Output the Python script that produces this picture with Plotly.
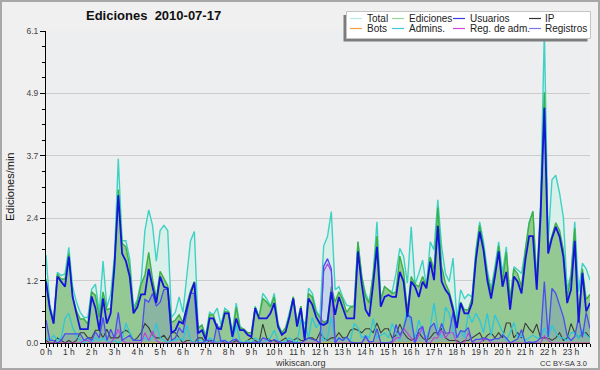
import plotly.graph_objects as go

# ---------------- data (10-minute slots, 0 h .. 23 h 50) ----------------
hour_labels = [f"{h} h" for h in range(24)]
slots = list(range(144))

total = [
    1.72, 0.75, 0.45, 1.38, 1.32, 1.35, 1.87, 1.1, 0.8, 0.6,
    0.5, 0.5, 1.05, 1.15, 0.6, 1.6, 0.7, 0.95, 1.7, 3.6,
    2.0, 2.0, 1.65, 0.7, 0.85, 1.2, 2.2, 2.6, 2.3, 1.6,
    2.2, 2.3, 2.2, 0.5, 0.6, 0.9, 0.6, 1.35, 2.0, 2.18,
    0.3, 0.35, 0.15, 0.6, 0.55, 0.68, 0.35, 0.68, 0.62, 0.22,
    0.78, 0.32, 0.27, 0.2, 0.2, 0.72, 0.5, 0.97, 0.87, 0.72,
    0.97, 0.38, 0.2, 0.3, 0.6, 0.9, 0.4, 0.72, 0.15, 1.07,
    0.97, 0.65, 0.5, 1.9, 2.08, 2.57, 1.04, 1.1, 0.9, 0.74,
    0.72, 0.72, 1.98, 1.3, 0.97, 0.8, 1.36, 2.37, 0.84, 1.1,
    1.04, 1.0, 1.36, 1.85, 1.69, 1.17, 2.27, 1.15, 1.36, 1.62,
    1.1, 1.98, 1.82, 2.8, 1.88, 1.36, 1.2, 1.66, 0.45, 1.04,
    0.87, 0.95, 0.9, 1.82, 2.37, 1.98, 1.43, 1.05, 1.49, 1.98,
    1.36, 1.88, 0.84, 1.49, 1.43, 1.36, 1.82, 2.36, 2.58, 1.2,
    2.7, 6.1, 1.97, 3.19, 3.28, 2.93, 2.45, 1.04, 1.35, 2.37,
    1.0, 1.56, 1.45, 1.23,
]
ediciones = [
    1.25, 0.68, 0.38, 1.35, 1.25, 1.25, 1.75, 0.9, 0.63, 0.47,
    0.47, 0.37, 1.0, 0.93, 0.5, 1.0, 0.65, 0.68, 1.6, 3.0,
    1.95, 1.88, 1.5, 0.63, 0.8, 1.15, 1.33, 1.77, 1.25, 0.88,
    1.4, 1.25, 1.12, 0.4, 0.45, 0.55, 0.4, 0.75, 1.02, 1.2,
    0.29, 0.35, 0.1, 0.55, 0.55, 0.3, 0.32, 0.62, 0.6, 0.15,
    0.7, 0.3, 0.27, 0.2, 0.2, 0.7, 0.5, 0.87, 0.8, 0.7,
    0.9, 0.35, 0.2, 0.3, 0.55, 0.9, 0.4, 0.72, 0.1, 0.97,
    0.9, 0.6, 0.5, 0.4, 0.45, 1.1, 0.8, 1.0, 0.85, 0.6,
    0.7, 0.72, 1.98, 1.3, 0.9, 0.78, 1.33, 2.09, 0.84, 1.1,
    1.04, 0.97, 1.0, 1.7, 1.4, 0.62, 1.3, 1.15, 1.1, 1.3,
    1.1, 1.68, 1.43, 2.65, 1.5, 1.17, 1.0, 0.72, 0.35, 0.8,
    0.65, 0.65, 0.88, 1.75, 2.3, 1.88, 1.35, 1.0, 1.4, 1.9,
    1.2, 1.78, 0.84, 1.45, 1.35, 1.1, 1.82, 2.34, 2.57, 1.17,
    2.6, 4.9, 1.85, 2.1, 2.35, 2.2, 1.82, 0.9, 1.3, 2.24,
    0.5, 1.45, 0.85, 0.95,
]
usuarios = [
    1.2, 0.68, 0.38, 1.3, 1.2, 1.1, 1.69, 0.9, 0.58, 0.27,
    0.27, 0.27, 0.91, 0.68, 0.25, 0.87, 0.38, 0.58, 1.5, 2.89,
    1.75, 1.6, 1.3, 0.58, 0.7, 0.95, 0.95, 1.45, 1.1, 0.78,
    1.3, 1.1, 1.07, 0.2, 0.25, 0.42, 0.38, 0.7, 0.97, 1.18,
    0.19, 0.25, 0.06, 0.48, 0.48, 0.29, 0.27, 0.58, 0.58, 0.12,
    0.48, 0.25, 0.25, 0.16, 0.12, 0.68, 0.48, 0.48, 0.48, 0.58,
    0.78, 0.32, 0.16, 0.22, 0.51, 0.87, 0.32, 0.68, 0.06, 0.87,
    0.75, 0.51, 0.38, 0.35, 0.4, 1.0, 0.55, 0.9, 0.7, 0.48,
    0.48, 0.48, 1.79, 1.15, 0.65, 0.52, 1.15, 1.88, 0.71, 0.9,
    0.94, 0.9, 0.9, 1.39, 1.2, 0.51, 1.2, 1.1, 0.9, 1.2,
    1.07, 1.59, 1.23, 2.29, 1.2, 1.04, 0.94, 0.65, 0.29, 0.78,
    0.58, 0.58, 0.78, 1.62, 2.18, 1.82, 1.23, 0.87, 1.3, 1.79,
    1.1, 1.39, 0.65, 1.3, 1.2, 0.97, 1.62, 2.09, 2.09, 1.04,
    2.47, 4.6, 1.75, 2.05, 2.27, 2.08, 1.69, 0.78, 1.04, 2.0,
    0.4, 1.37, 0.62, 0.78,
]
ip = [
    0.05, 0.0, 0.0, 0.1, 0.05, 0.0, 0.05, 0.0, 0.05, 0.2,
    0.2, 0.1, 0.1, 0.25, 0.25, 0.1, 0.27, 0.1, 0.1, 0.1,
    0.2, 0.25, 0.2, 0.05, 0.1, 0.2, 0.38, 0.3, 0.15, 0.1,
    0.1, 0.15, 0.05, 0.2, 0.2, 0.1, 0.0, 0.05, 0.05, 0.0,
    0.1, 0.1, 0.0, 0.05, 0.05, 0.0, 0.05, 0.0, 0.0, 0.0,
    0.05, 0.0, 0.0, 0.05, 0.1, 0.05, 0.0, 0.37, 0.1, 0.05,
    0.05, 0.0, 0.05, 0.1, 0.0, 0.05, 0.1, 0.05, 0.05, 0.1,
    0.1, 0.05, 0.2, 0.1, 0.05, 0.1, 0.1, 0.2, 0.1, 0.1,
    0.25, 0.28, 0.25, 0.2, 0.28, 0.28, 0.2, 0.39, 0.2, 0.28,
    0.28, 0.1, 0.15, 0.37, 0.2, 0.1, 0.05, 0.1, 0.2, 0.1,
    0.05, 0.1, 0.2, 0.2, 0.28, 0.1, 0.05, 0.05, 0.05, 0.0,
    0.05, 0.05, 0.1, 0.15, 0.2, 0.05, 0.15, 0.2, 0.1, 0.2,
    0.1, 0.39, 0.39, 0.1, 0.2, 0.1, 0.39, 0.28, 0.2, 0.37,
    0.1, 0.1, 0.1, 0.05, 0.1, 0.2, 0.05, 0.1, 0.38, 0.2,
    0.1, 0.2, 0.2, 0.1,
]
bots = [
    0.0, 0.0, 0.0, 0.0, 0.0, 0.0, 0.0, 0.0, 0.0, 0.0,
    0.0, 0.0, 0.0, 0.0, 0.0, 0.0, 0.0, 0.0, 0.0, 0.0,
    0.0, 0.0, 0.0, 0.0, 0.0, 0.0, 0.0, 0.0, 0.0, 0.0,
    0.0, 0.0, 0.0, 0.0, 0.0, 0.0, 0.0, 0.0, 0.0, 0.0,
    0.0, 0.0, 0.0, 0.0, 0.0, 0.0, 0.0, 0.0, 0.0, 0.0,
    0.0, 0.0, 0.0, 0.0, 0.0, 0.0, 0.0, 0.0, 0.0, 0.0,
    0.0, 0.0, 0.0, 0.0, 0.0, 0.0, 0.0, 0.0, 0.0, 0.0,
    0.0, 0.0, 0.0, 0.0, 0.0, 0.0, 0.0, 0.0, 0.0, 0.0,
    0.0, 0.0, 0.0, 0.0, 0.0, 0.0, 0.0, 0.0, 0.0, 0.0,
    0.0, 0.0, 0.0, 0.0, 0.0, 0.0, 0.0, 0.0, 0.0, 0.0,
    0.0, 0.0, 0.0, 0.0, 0.0, 0.0, 0.0, 0.0, 0.0, 0.0,
    0.0, 0.0, 0.0, 0.0, 0.0, 0.0, 0.0, 0.0, 0.0, 0.0,
    0.0, 0.0, 0.0, 0.0, 0.0, 0.0, 0.0, 0.0, 0.0, 0.0,
    0.0, 0.0, 0.0, 0.0, 0.0, 0.0, 0.0, 0.0, 0.0, 0.0,
    0.0, 0.0, 0.0, 0.0,
]
admins = [
    0.1, 0.05, 0.15, 0.05, 0.1, 0.48, 0.58, 0.3, 0.15, 0.05,
    0.0, 0.05, 0.0, 0.1, 0.05, 0.1, 0.05, 0.0, 0.05, 0.0,
    0.05, 0.39, 0.2, 0.05, 0.05, 0.05, 0.1, 0.05, 0.1, 0.39,
    0.1, 0.05, 0.0, 0.05, 0.05, 0.1, 0.05, 0.35, 0.05, 0.0,
    0.05, 0.05, 0.0, 0.1, 0.05, 0.0, 0.05, 0.05, 0.0, 0.05,
    0.35, 0.05, 0.0, 0.05, 0.0, 0.1, 0.05, 0.0, 0.05, 0.1,
    0.25, 0.05, 0.0, 0.05, 0.1, 0.05, 0.0, 0.45, 0.4, 0.1,
    0.5, 0.3, 0.39, 0.05, 0.1, 0.5, 0.05, 0.1, 0.05, 0.1,
    0.05, 0.38, 0.3, 0.1, 0.15, 0.1, 0.48, 0.1, 0.15, 0.2,
    0.1, 0.38, 0.2, 0.05, 0.3, 0.7, 0.35, 0.1, 0.45, 0.2,
    0.1, 0.3, 0.78, 0.25, 0.1, 0.7, 0.58, 0.25, 0.1, 0.25,
    0.1, 0.58, 0.4, 0.58, 0.45, 0.2, 0.58, 0.15, 0.55, 0.38,
    0.2, 0.05, 0.2, 0.4, 0.1, 0.15, 0.05, 0.1, 0.15, 0.1,
    0.1, 0.3, 0.1, 0.35, 0.2, 0.1, 0.1, 0.05, 0.2, 0.2,
    0.1, 0.25, 0.15, 0.1,
]
reg_adm = [
    0.0, 0.0, 0.0, 0.0, 0.0, 0.0, 0.0, 0.0, 0.0, 0.0,
    0.05, 0.05, 0.0, 0.0, 0.0, 0.0, 0.0, 0.0, 0.1, 0.27,
    0.05, 0.0, 0.0, 0.0, 0.0, 0.0, 0.2, 0.05, 0.23, 0.05,
    0.0, 0.0, 0.0, 0.0, 0.0, 0.0, 0.0, 0.0, 0.0, 0.0,
    0.0, 0.0, 0.0, 0.0, 0.0, 0.0, 0.0, 0.0, 0.0, 0.0,
    0.0, 0.0, 0.0, 0.0, 0.0, 0.0, 0.0, 0.0, 0.0, 0.0,
    0.0, 0.0, 0.0, 0.0, 0.0, 0.0, 0.0, 0.0, 0.0, 0.0,
    0.0, 0.0, 0.0, 1.4, 1.55, 1.4, 0.0, 0.0, 0.0, 0.0,
    0.0, 0.0, 0.0, 0.0, 0.13, 0.0, 0.0, 0.0, 0.0, 0.0,
    0.0, 0.0, 0.1, 0.1, 0.29, 0.2, 0.1, 0.0, 0.15, 0.3,
    0.0, 0.0, 0.1, 0.1, 0.25, 0.1, 0.2, 0.2, 0.0, 0.0,
    0.0, 0.2, 0.02, 0.0, 0.0, 0.07, 0.08, 0.0, 0.0, 0.0,
    0.0, 0.0, 0.0, 0.0, 0.0, 0.0, 0.0, 0.0, 0.0, 0.0,
    0.0, 0.14, 0.05, 0.0, 0.0, 0.0, 0.0, 0.0, 0.0, 0.0,
    0.0, 0.0, 0.0, 0.0,
]
registros = [
    0.45, 0.05, 0.05, 0.0, 0.05, 0.18, 0.18, 0.18, 0.18, 0.18,
    0.05, 0.1, 0.05, 0.22, 0.1, 0.5, 0.05, 0.27, 0.1, 0.6,
    0.05, 0.1, 0.15, 0.05, 0.05, 0.05, 0.85, 0.8, 0.97, 0.72,
    0.8, 1.05, 1.05, 0.05, 0.1, 0.3, 0.2, 0.6, 0.97, 0.97,
    0.0, 0.0, 0.05, 0.05, 0.0, 0.38, 0.03, 0.05, 0.0, 0.05,
    0.08, 0.0, 0.0, 0.0, 0.0, 0.02, 0.0, 0.1, 0.07, 0.02,
    0.07, 0.03, 0.0, 0.0, 0.05, 0.0, 0.0, 0.0, 0.05, 0.1,
    0.07, 0.05, 0.0, 1.5, 1.65, 1.45, 0.0, 0.1, 0.05, 0.12,
    0.02, 0.0, 0.0, 0.0, 0.13, 0.02, 0.03, 0.28, 0.0, 0.0,
    0.0, 0.03, 0.36, 0.15, 0.29, 0.55, 0.5, 0.0, 0.26, 0.32,
    0.0, 0.3, 0.39, 0.15, 0.38, 0.19, 0.2, 0.6, 0.1, 0.24,
    0.22, 0.3, 0.02, 0.07, 0.07, 0.1, 0.08, 0.05, 0.09, 0.08,
    0.16, 0.1, 0.0, 0.04, 0.08, 0.26, 0.0, 0.02, 0.01, 0.03,
    0.1, 1.2, 0.12, 1.07, 0.97, 0.74, 0.51, 0.14, 0.05, 0.13,
    0.5, 0.11, 0.6, 0.28,
]

y_tick_vals = [0.0, 1.22, 2.44, 3.66, 4.88, 6.1]
y_tick_text = ["0.0", "1.2", "2.4", "3.7", "4.9", "6.1"]
hour_tick_vals = [h * 6 for h in range(24)]

legend_rows = [
    [("Total", "#b4e8e6"), ("Ediciones", "#98d49a"), ("Usuarios", "#3a3ae2"), ("IP", "#333333")],
    [("Bots", "#f0a040"), ("Admins.", "#40c8e0"), ("Reg. de adm.", "#d048e0"), ("Registros", "#7a7af0")],
]

# ---------------- layout geometry helpers ----------------
W, H = 600, 370
L, R, T, B = 46, 10, 31, 27
PW, PH = W - L - R, H - T - B


def px(xpix):
    return (xpix - L) / PW


def py(ypix):
    return (H - B - ypix) / PH


FONT = "Liberation Sans, Arial, DejaVu Sans, sans-serif"

fig = go.Figure()

fig.add_trace(go.Scatter(x=slots, y=total, mode="lines", name="Total",
                         line=dict(color="#3fd2c4", width=1.4),
                         fill="tozeroy", fillcolor="#d9f0ea"))
fig.add_trace(go.Scatter(x=slots, y=ediciones, mode="lines", name="Ediciones",
                         line=dict(color="#3cb044", width=1.4),
                         fill="tozeroy", fillcolor="#94c994"))
fig.add_trace(go.Scatter(x=slots, y=registros, mode="lines", name="Registros (área)",
                         line=dict(width=0, color="rgba(0,0,0,0)"),
                         fill="tozeroy", fillcolor="rgba(80,80,235,0.16)"))
fig.add_trace(go.Scatter(x=slots, y=bots, mode="lines", name="Bots",
                         line=dict(color="#f0a030", width=1)))
fig.add_trace(go.Scatter(x=slots, y=ip, mode="lines", name="IP",
                         line=dict(color="#3a3a3a", width=1.1)))
fig.add_trace(go.Scatter(x=slots, y=admins, mode="lines", name="Admins.",
                         line=dict(color="#2ec6dc", width=1.3)))
fig.add_trace(go.Scatter(x=slots, y=reg_adm, mode="lines", name="Reg. de adm.",
                         line=dict(color="#c040e0", width=1.1)))
fig.add_trace(go.Scatter(x=slots, y=registros, mode="lines", name="Registros",
                         line=dict(color="#4c4cf0", width=1.3)))
fig.add_trace(go.Scatter(x=slots, y=usuarios, mode="lines", name="Usuarios",
                         line=dict(color="#1414dc", width=1.8)))

shapes = []
annotations = []

# outer frame
shapes.append(dict(type="rect", xref="paper", yref="paper",
                   x0=px(1), x1=px(599), y0=py(369), y1=py(1),
                   line=dict(color="#a8a8a8", width=2), fillcolor="rgba(0,0,0,0)",
                   layer="above"))

# legend box with shadow
shapes.append(dict(type="rect", xref="paper", yref="paper",
                   x0=px(343.5), x1=px(587.5), y0=py(41.5), y1=py(15),
                   line=dict(width=0), fillcolor="#7c7c7c", layer="above"))
shapes.append(dict(type="rect", xref="paper", yref="paper",
                   x0=px(346.5), x1=px(590.5), y0=py(38.5), y1=py(11.5),
                   line=dict(color="#c4c4c4", width=1), fillcolor="#ffffff", layer="above"))

col_line_x = [350, 392, 453, 529]
col_text_x = [366, 408, 469, 544]
row_y = [18.5, 28.5]
for r, row in enumerate(legend_rows):
    for c, (label, color) in enumerate(row):
        shapes.append(dict(type="line", xref="paper", yref="paper",
                           x0=px(col_line_x[c]), x1=px(col_line_x[c] + 12),
                           y0=py(row_y[r]), y1=py(row_y[r]),
                           line=dict(color=color, width=1.2), layer="above"))
        annotations.append(dict(xref="paper", yref="paper", x=px(col_text_x[c] - 1), y=py(row_y[r]),
                                text=label, showarrow=False, xanchor="left", yanchor="middle",
                                font=dict(family=FONT, size=10, color="#222222")))

# title
annotations.append(dict(xref="paper", yref="paper", x=px(153), y=py(16),
                        text="<b>Ediciones\u00a0 2010-07-17</b>", showarrow=False,
                        xanchor="center", yanchor="middle",
                        font=dict(family=FONT, size=13, color="#111111")))
# y-axis title
annotations.append(dict(xref="paper", yref="paper", x=px(10), y=py(187),
                        text="Ediciones/min", showarrow=False, textangle=-90,
                        xanchor="center", yanchor="middle",
                        font=dict(family=FONT, size=11, color="#111111")))
# footer
annotations.append(dict(xref="paper", yref="paper", x=px(300), y=py(362.5),
                        text="wikiscan.org", showarrow=False,
                        xanchor="center", yanchor="middle",
                        font=dict(family=FONT, size=9, color="#333333")))
annotations.append(dict(xref="paper", yref="paper", x=px(589), y=py(363),
                        text="CC BY-SA 3.0", showarrow=False,
                        xanchor="right", yanchor="middle",
                        font=dict(family=FONT, size=7.5, color="#333333")))

fig.update_layout(
    width=W, height=H,
    margin=dict(l=L, r=R, t=T, b=B, autoexpand=False),
    paper_bgcolor="#f0f0f0",
    plot_bgcolor="#eceef0",
    showlegend=False,
    shapes=shapes,
    annotations=annotations,
    xaxis=dict(
        range=[0, 143], showline=True, linecolor="black", linewidth=1,
        ticks="outside", ticklen=4, tickcolor="black", tickwidth=1,
        tickmode="array", tickvals=hour_tick_vals, ticktext=hour_labels,
        tickfont=dict(family=FONT, size=8.5, color="#333333"),
        ticklabelstandoff=-3,
        showgrid=False, zeroline=False, fixedrange=True,
        minor=dict(dtick=1, tick0=0, ticks="outside", ticklen=3,
                   tickcolor="black", tickwidth=1, showgrid=False),
    ),
    yaxis=dict(
        range=[0, 6.1], showline=True, linecolor="black", linewidth=1,
        ticks="outside", ticklen=5, tickcolor="black", tickwidth=1,
        tickmode="array", tickvals=y_tick_vals, ticktext=y_tick_text,
        tickfont=dict(family=FONT, size=8.5, color="#444444"),
        showgrid=True, gridcolor="#cccccc", gridwidth=1, zeroline=False,
        fixedrange=True,
        minor=dict(dtick=0.305, tick0=0, ticks="outside", ticklen=3,
                   tickcolor="black", tickwidth=1, showgrid=False),
    ),
)

fig.write_html(
    "out.html",
    config={"displayModeBar": False},
    post_script="document.body.style.margin='0';document.body.style.padding='0';",
)
